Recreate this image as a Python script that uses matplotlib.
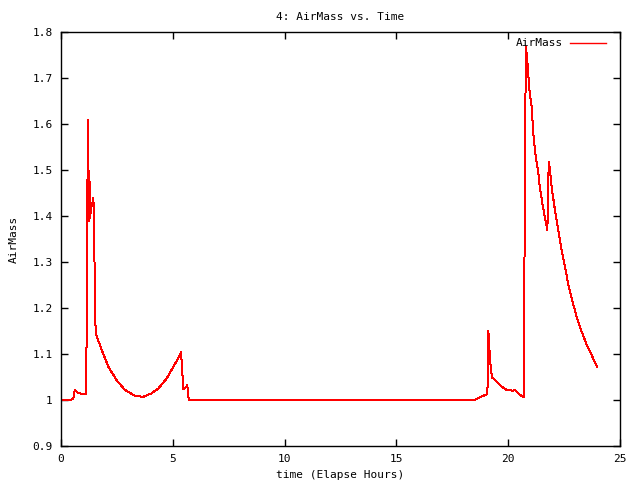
import matplotlib
matplotlib.use("Agg")
import matplotlib.pyplot as plt

time_h = [0.0, 0.4, 0.55, 0.62, 0.75, 1.0, 1.12, 1.15, 1.18, 1.22, 1.24, 1.27, 1.29, 1.35, 1.42, 1.45, 1.48, 1.52, 1.55,
          1.82, 2.12, 2.49, 2.86, 3.31, 3.68, 4.05, 4.35, 4.73, 5.02, 5.28, 5.37, 5.40, 5.47, 5.62, 5.65, 5.69, 5.74,
          18.47, 19.07, 19.09, 19.11, 19.14, 19.17, 19.22, 19.28, 19.48, 19.71, 19.93, 20.23, 20.30, 20.45, 20.6, 20.71,
          20.72, 20.75, 20.80, 20.81, 20.83, 20.90, 20.97, 21.05, 21.12, 21.24, 21.35, 21.42, 21.54, 21.65, 21.72, 21.75,
          21.77, 21.79, 21.82, 21.87, 21.94, 22.09, 22.24, 22.39, 22.54, 22.69, 22.84, 23.06, 23.29, 23.51, 23.73, 23.98]
airmass = [1.0, 1.0, 1.003, 1.022, 1.015, 1.013, 1.013, 1.161, 1.46, 1.609, 1.388, 1.498, 1.396, 1.417, 1.431, 1.439, 1.366, 1.221, 1.145,
           1.109, 1.072, 1.043, 1.022, 1.009, 1.007, 1.0145, 1.025, 1.047, 1.072, 1.094, 1.104, 1.08, 1.023, 1.03, 1.032, 1.007, 1.0,
           1.0, 1.013, 1.081, 1.15, 1.132, 1.10, 1.069, 1.049, 1.040, 1.029, 1.022, 1.020, 1.022, 1.0145, 1.0087, 1.006,
           1.196, 1.576, 1.768, 1.732, 1.754, 1.707, 1.663, 1.638, 1.58, 1.525, 1.493, 1.46, 1.424, 1.395, 1.377, 1.370,
           1.406, 1.478, 1.518, 1.5, 1.464, 1.413, 1.370, 1.326, 1.29, 1.25, 1.221, 1.181, 1.148, 1.12, 1.098, 1.071]

x_ticks = [0, 5, 10, 15, 20, 25]
y_ticks = [0.9, 1.0, 1.1, 1.2, 1.3, 1.4, 1.5, 1.6, 1.7, 1.8]

plt.rcParams['font.family'] = ['DejaVu Sans Mono']
plt.rcParams['font.size'] = 8

fig = plt.figure(figsize=(6.4, 4.8), dpi=100)
ax = fig.add_axes([61/640, 1-446/480, (620-61)/640, (446-32)/480])
ax.plot(time_h, airmass, color='#ff0000', lw=0.72, label='AirMass', antialiased=False)
ax.set_xlim(0, 25)
ax.set_ylim(0.9, 1.8)
ax.set_xticks(x_ticks)
ax.set_yticks(y_ticks)
ax.set_yticklabels(['%g' % v for v in y_ticks])
ax.tick_params(direction='in', top=True, right=True, length=5, width=1, pad=6)
for s in ax.spines.values():
    s.set_linewidth(1)
ax.set_title('4: AirMass vs. Time', fontsize=8, pad=9)
ax.set_xlabel('time (Elapse Hours)', labelpad=4)
ax.set_ylabel('AirMass', labelpad=10)
leg = ax.legend(loc='upper right', frameon=False, handlelength=3.2,
                bbox_to_anchor=(610/640, 1-34/480), bbox_transform=fig.transFigure,
                borderaxespad=0.0, markerfirst=False, handletextpad=0.6)
for l in leg.get_lines():
    l.set_linewidth(1.0)
    l.set_antialiased(True)
fig.savefig('out.png', dpi=100)
